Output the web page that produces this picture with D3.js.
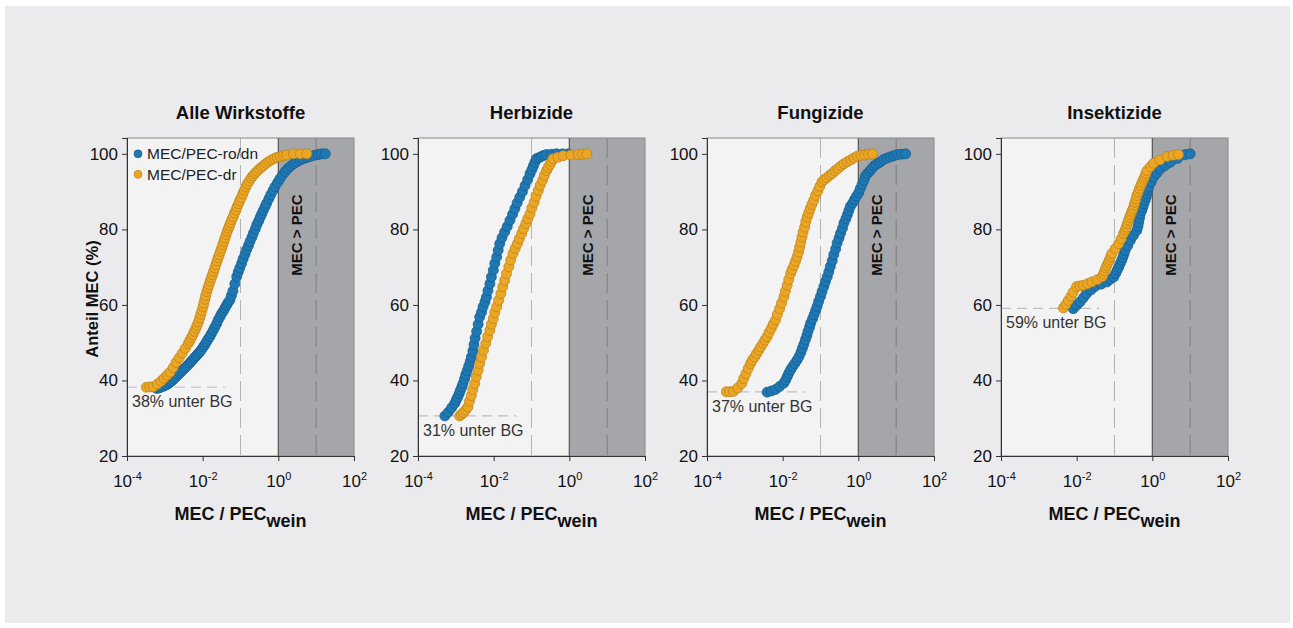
<!DOCTYPE html>
<html>
<head>
<meta charset="utf-8">
<script src="https://cdn.jsdelivr.net/npm/d3@7"></script>
<style>
  body { margin: 0; background: #fff; }
  svg { display: block; font-family: "Liberation Sans", Arial, sans-serif; }
</style>
</head>
<body>
<svg id="chart" width="1293" height="628"></svg>
<script>
// Panel titles and "unter BG" annotations
const panelTitles = ['Alle Wirkstoffe', 'Herbizide', 'Fungizide', 'Insektizide'];
const loqPercent = [38.2, 30.6, 37.0, 59.1];
const loqLabels = ['38% unter BG', '31% unter BG', '37% unter BG', '59% unter BG'];

// Ticks
const xTickExp = [-4, -2, 0, 2];
const yTicks = [20, 40, 60, 80, 100];

// Series: [log10(MEC/PEC), Anteil MEC %]
const allRoDn = [[-3.22,37.9],[-3.16,38.0],[-3.10,38.2],[-3.03,38.5],[-2.96,38.8],[-2.90,39.2],[-2.85,39.6],[-2.80,40.0],[-2.75,40.5],[-2.70,41.0],[-2.65,41.5],[-2.60,42.0],[-2.55,42.5],[-2.50,43.0],[-2.45,43.5],[-2.40,44.0],[-2.34,44.6],[-2.30,45.1],[-2.25,45.6],[-2.21,46.1],[-2.16,46.6],[-2.12,47.1],[-2.07,47.6],[-2.03,48.2],[-1.98,48.9],[-1.94,49.5],[-1.90,50.2],[-1.86,50.9],[-1.81,51.6],[-1.77,52.4],[-1.72,53.3],[-1.68,54.1],[-1.63,55.0],[-1.59,56.0],[-1.54,56.9],[-1.50,57.7],[-1.45,58.4],[-1.41,59.2],[-1.37,59.9],[-1.33,60.6],[-1.28,61.3],[-1.24,62.5],[-1.20,63.7],[-1.15,65.6],[-1.10,67.5],[-1.06,68.7],[-1.02,69.8],[-0.97,71.0],[-0.93,72.2],[-0.88,73.4],[-0.84,74.6],[-0.79,75.7],[-0.75,76.8],[-0.70,77.9],[-0.66,79.0],[-0.61,80.1],[-0.57,81.2],[-0.52,82.2],[-0.48,83.2],[-0.44,84.1],[-0.40,85.0],[-0.35,86.0],[-0.31,86.9],[-0.25,88.1],[-0.20,89.2],[-0.14,90.3],[-0.09,91.3],[-0.02,92.4],[0.04,93.4],[0.11,94.4],[0.18,95.3],[0.25,96.1],[0.33,96.8],[0.41,97.4],[0.49,97.9],[0.57,98.3],[0.66,98.7],[0.75,99.0],[0.84,99.3],[0.95,99.6],[1.05,99.8],[1.14,100],[1.24,100]];
const allDr = [[-3.49,38.2],[-3.40,38.3],[-3.31,38.3],[-3.20,39.0],[-3.10,39.8],[-3.02,40.6],[-2.94,41.4],[-2.86,42.2],[-2.78,43.4],[-2.70,44.8],[-2.62,46.0],[-2.54,47.2],[-2.46,48.5],[-2.38,49.8],[-2.34,50.5],[-2.30,51.3],[-2.26,52.1],[-2.22,53.0],[-2.18,53.8],[-2.15,54.6],[-2.11,55.5],[-2.08,56.5],[-2.05,57.5],[-2.02,58.5],[-1.99,59.5],[-1.97,60.5],[-1.94,61.5],[-1.92,62.5],[-1.89,63.5],[-1.86,64.5],[-1.83,65.4],[-1.80,66.3],[-1.77,67.2],[-1.74,68.0],[-1.71,68.9],[-1.68,69.8],[-1.65,70.7],[-1.62,71.6],[-1.59,72.5],[-1.56,73.3],[-1.53,74.2],[-1.50,75.0],[-1.47,75.9],[-1.44,76.8],[-1.41,77.7],[-1.38,78.6],[-1.35,79.5],[-1.32,80.3],[-1.29,81.0],[-1.26,81.8],[-1.23,82.6],[-1.19,83.4],[-1.16,84.3],[-1.12,85.1],[-1.09,86.0],[-1.05,86.8],[-1.02,87.6],[-0.98,88.4],[-0.94,89.4],[-0.90,90.3],[-0.86,91.2],[-0.82,92.0],[-0.77,92.8],[-0.72,93.6],[-0.67,94.2],[-0.62,94.8],[-0.56,95.4],[-0.50,96.0],[-0.44,96.5],[-0.38,97.0],[-0.32,97.5],[-0.25,98.0],[-0.18,98.4],[-0.10,98.8],[-0.03,99.1],[0.05,99.3],[0.13,99.5],[0.22,99.7],[0.40,100],[0.58,100],[0.75,100]];
const herbRoDn = [[-3.29,30.6],[-3.20,31.6],[-3.11,32.8],[-3.03,33.9],[-2.99,34.8],[-2.95,35.6],[-2.91,36.5],[-2.88,37.4],[-2.84,38.3],[-2.81,39.2],[-2.77,40.4],[-2.74,41.5],[-2.70,42.6],[-2.66,43.8],[-2.62,45.0],[-2.59,46.2],[-2.55,47.8],[-2.52,49.5],[-2.49,51.2],[-2.45,53.0],[-2.41,54.9],[-2.37,56.8],[-2.32,58.1],[-2.28,59.5],[-2.23,60.8],[-2.19,62.1],[-2.15,63.8],[-2.10,65.6],[-2.06,67.4],[-2.01,69.2],[-1.97,71.0],[-1.92,72.7],[-1.88,74.5],[-1.84,76.2],[-1.78,77.8],[-1.71,79.3],[-1.64,80.8],[-1.57,82.4],[-1.50,84.0],[-1.44,85.5],[-1.38,87.0],[-1.31,88.5],[-1.24,90.0],[-1.17,91.6],[-1.10,93.2],[-1.04,94.7],[-0.99,95.8],[-0.95,96.8],[-0.91,97.8],[-0.87,98.7],[-0.80,99.0],[-0.74,99.3],[-0.67,99.6],[-0.60,99.8],[-0.47,99.9],[-0.34,100],[-0.18,100],[-0.03,100]];
const herbDr = [[-2.90,30.6],[-2.85,31.0],[-2.80,31.5],[-2.74,32.2],[-2.68,33.0],[-2.64,34.5],[-2.59,36.0],[-2.55,37.6],[-2.50,39.2],[-2.46,41.0],[-2.41,42.7],[-2.37,44.5],[-2.32,46.2],[-2.27,48.0],[-2.21,49.8],[-2.16,51.6],[-2.10,53.3],[-2.06,54.9],[-2.01,56.4],[-1.97,58.0],[-1.92,59.5],[-1.87,61.2],[-1.81,63.0],[-1.76,64.8],[-1.71,66.5],[-1.66,68.3],[-1.60,70.1],[-1.55,71.9],[-1.49,73.6],[-1.43,75.0],[-1.37,76.3],[-1.32,77.6],[-1.26,78.9],[-1.21,80.2],[-1.15,81.5],[-1.10,82.8],[-1.04,84.1],[-0.99,85.7],[-0.93,87.2],[-0.88,88.8],[-0.82,90.3],[-0.77,91.7],[-0.71,93.0],[-0.66,94.3],[-0.60,95.6],[-0.56,96.4],[-0.51,97.2],[-0.47,98.0],[-0.43,98.7],[-0.30,99.1],[-0.16,99.5],[0.04,99.7],[0.24,99.8],[0.35,99.9],[0.46,100]];
const fungRoDn = [[-2.41,36.9],[-2.30,37.2],[-2.19,37.6],[-2.08,38.4],[-1.97,39.3],[-1.92,40.1],[-1.88,41.0],[-1.84,41.9],[-1.79,42.8],[-1.74,43.6],[-1.68,44.5],[-1.62,45.4],[-1.57,46.3],[-1.52,47.4],[-1.48,48.5],[-1.44,49.6],[-1.40,50.8],[-1.36,51.9],[-1.33,53.0],[-1.29,54.1],[-1.26,55.2],[-1.21,56.3],[-1.17,57.4],[-1.13,58.5],[-1.09,59.6],[-1.05,60.9],[-1.00,62.2],[-0.96,63.5],[-0.91,64.9],[-0.87,66.2],[-0.82,67.5],[-0.78,68.8],[-0.74,70.2],[-0.69,71.7],[-0.65,73.3],[-0.60,74.8],[-0.56,76.4],[-0.51,77.7],[-0.47,79.0],[-0.42,80.3],[-0.38,81.7],[-0.33,82.8],[-0.29,83.9],[-0.25,85.0],[-0.21,86.1],[-0.15,87.0],[-0.10,87.9],[-0.05,88.8],[0.01,89.7],[0.05,90.8],[0.10,91.9],[0.15,93.0],[0.19,94.1],[0.24,94.8],[0.30,95.4],[0.35,96.0],[0.41,96.7],[0.47,97.2],[0.54,97.6],[0.60,98.0],[0.67,98.5],[0.76,98.9],[0.85,99.2],[0.94,99.5],[1.03,99.8],[1.14,99.9],[1.25,100]];
const fungDr = [[-3.49,37.0],[-3.40,37.0],[-3.30,37.1],[-3.19,38.0],[-3.08,39.2],[-3.03,40.5],[-2.97,41.8],[-2.91,43.2],[-2.85,44.5],[-2.80,45.4],[-2.74,46.2],[-2.69,47.1],[-2.63,48.0],[-2.58,48.9],[-2.52,49.8],[-2.47,50.7],[-2.41,51.6],[-2.36,52.7],[-2.30,53.8],[-2.25,54.9],[-2.19,56.0],[-2.14,57.5],[-2.08,59.0],[-2.03,60.5],[-1.97,62.1],[-1.93,63.6],[-1.88,65.2],[-1.84,66.7],[-1.79,68.3],[-1.75,69.4],[-1.70,70.5],[-1.66,71.6],[-1.62,72.7],[-1.58,74.0],[-1.55,75.3],[-1.52,76.6],[-1.49,78.0],[-1.46,79.3],[-1.42,80.6],[-1.39,82.0],[-1.35,83.3],[-1.31,84.4],[-1.27,85.5],[-1.23,86.6],[-1.18,87.7],[-1.13,89.0],[-1.07,90.2],[-1.02,91.4],[-0.96,92.6],[-0.90,93.2],[-0.83,93.7],[-0.76,94.3],[-0.69,94.8],[-0.62,95.5],[-0.54,96.1],[-0.46,96.8],[-0.38,97.4],[-0.29,97.9],[-0.20,98.4],[-0.12,98.9],[-0.03,99.4],[0.07,99.6],[0.17,99.7],[0.27,99.9],[0.37,100]];
const insRoDn = [[-2.09,59.0],[-2.00,59.9],[-1.91,60.8],[-1.82,61.9],[-1.74,63.0],[-1.62,64.0],[-1.51,64.9],[-1.35,65.5],[-1.20,66.1],[-1.11,66.8],[-1.02,67.4],[-0.97,68.3],[-0.93,69.2],[-0.89,70.0],[-0.85,70.9],[-0.81,71.8],[-0.78,72.6],[-0.75,73.5],[-0.72,74.4],[-0.65,75.7],[-0.58,77.1],[-0.50,78.4],[-0.41,79.7],[-0.38,80.8],[-0.36,81.9],[-0.34,83.0],[-0.32,84.1],[-0.28,85.0],[-0.25,85.9],[-0.22,86.8],[-0.19,87.7],[-0.16,88.6],[-0.14,89.5],[-0.12,90.4],[-0.10,91.2],[-0.03,92.5],[0.03,93.8],[0.12,94.9],[0.21,96.0],[0.34,96.9],[0.48,97.8],[0.67,98.8],[0.87,99.8],[1.00,100]];
const insDr = [[-2.35,59.2],[-2.28,60.2],[-2.22,61.2],[-2.15,62.3],[-2.09,63.4],[-2.00,64.9],[-1.91,65.0],[-1.82,65.2],[-1.71,65.6],[-1.60,66.1],[-1.46,66.7],[-1.33,67.4],[-1.29,68.2],[-1.26,69.0],[-1.23,69.8],[-1.20,70.5],[-1.16,71.3],[-1.13,72.0],[-1.10,72.8],[-1.07,73.6],[-0.98,74.9],[-0.89,76.2],[-0.82,77.5],[-0.76,78.9],[-0.72,79.8],[-0.69,80.6],[-0.66,81.5],[-0.63,82.4],[-0.60,83.2],[-0.57,84.0],[-0.54,84.8],[-0.51,85.5],[-0.48,86.4],[-0.46,87.2],[-0.43,88.1],[-0.41,89.0],[-0.37,89.9],[-0.34,90.8],[-0.30,91.7],[-0.27,92.5],[-0.23,93.3],[-0.20,94.0],[-0.17,94.8],[-0.14,95.6],[-0.05,96.6],[0.03,97.5],[0.20,98.4],[0.39,99.3],[0.55,99.6],[0.69,99.8]];

const roDnSeries = [allRoDn, herbRoDn, fungRoDn, insRoDn];
const drSeries = [allDr, herbDr, fungDr, insDr];

const blue = '#1f78b4', blueEdge = '#135a8a';
const orange = '#eca625', orangeEdge = '#b67f15';

// layout
const panelLeft = [127, 418, 707, 1001];
const plotW = 227, plotTop = 138, plotBottom = 456;

const svg = d3.select('#chart');

svg.append('rect')
  .attr('x', 5).attr('y', 6).attr('width', 1285).attr('height', 617)
  .attr('fill', '#ebebed');

const y = d3.scaleLinear().domain([20, 104.2]).range([plotBottom, plotTop]);

panelTitles.forEach((title, i) => {
  const left = panelLeft[i];
  const x = d3.scaleLog().domain([1e-4, 1e2]).range([left, left + plotW]);
  const g = svg.append('g');

  // plot background
  g.append('rect')
    .attr('x', left).attr('y', plotTop).attr('width', plotW).attr('height', plotBottom - plotTop)
    .attr('fill', '#f3f3f4');

  // MEC > PEC region
  g.append('rect')
    .attr('x', x(1)).attr('y', plotTop).attr('width', x(1e2) - x(1)).attr('height', plotBottom - plotTop)
    .attr('fill', '#a4a6a9');

  // dashed reference lines at 0.1 and 10
  g.append('line')
    .attr('x1', x(0.1)).attr('x2', x(0.1)).attr('y1', plotTop).attr('y2', plotBottom)
    .attr('stroke', '#b4b4b6').attr('stroke-width', 1).attr('stroke-dasharray', '20,7');
  g.append('line')
    .attr('x1', x(10)).attr('x2', x(10)).attr('y1', plotTop).attr('y2', plotBottom)
    .attr('stroke', '#7c7e81').attr('stroke-width', 1).attr('stroke-dasharray', '20,7');

  // LOQ line + label
  g.append('line')
    .attr('x1', left).attr('x2', x(Math.pow(10, -1.4)))
    .attr('y1', y(loqPercent[i])).attr('y2', y(loqPercent[i]))
    .attr('stroke', '#bdbdbf').attr('stroke-width', 1.2).attr('stroke-dasharray', '10,6');
  g.append('text')
    .attr('x', left + 5).attr('y', y(loqPercent[i]) + 20)
    .attr('font-size', 16).attr('fill', '#333')
    .text(loqLabels[i]);

  // frame
  g.append('rect')
    .attr('x', left).attr('y', plotTop).attr('width', plotW).attr('height', plotBottom - plotTop)
    .attr('fill', 'none').attr('stroke', '#8a8a8c').attr('stroke-width', 1);
  g.append('line')
    .attr('x1', x(1)).attr('x2', x(1)).attr('y1', plotTop).attr('y2', plotBottom)
    .attr('stroke', '#555').attr('stroke-width', 1.2);

  // MEC > PEC label
  const mx = x(Math.pow(10, 0.48)), my = y(78.5);
  g.append('text')
    .attr('transform', `translate(${mx},${my}) rotate(-90)`)
    .attr('text-anchor', 'middle').attr('dy', '0.35em')
    .attr('font-size', 15).attr('font-weight', 'bold').attr('fill', '#111')
    .text('MEC > PEC');

  // axes
  const yAxis = g.append('g')
    .attr('transform', `translate(${left},0)`)
    .call(d3.axisLeft(y).tickValues(yTicks).tickSize(5).tickPadding(4));
  yAxis.select('.domain').attr('stroke', '#333');
  yAxis.selectAll('.tick line').attr('stroke', '#333');
  yAxis.selectAll('.tick text').attr('font-size', 17).attr('fill', '#111')
    .attr('font-family', '"Liberation Sans", Arial, sans-serif');

  const xAxis = g.append('g')
    .attr('transform', `translate(0,${plotBottom})`)
    .call(d3.axisBottom(x).tickValues(xTickExp.map(e => Math.pow(10, e))).tickSize(5).tickFormat(''));
  xAxis.select('.domain').attr('stroke', '#333');
  xAxis.selectAll('.tick line').attr('stroke', '#333');
  xAxis.selectAll('.tick').each(function (d, k) {
    const t = d3.select(this).append('text')
      .attr('y', 31).attr('text-anchor', 'middle')
      .attr('font-size', 17).attr('fill', '#111')
      .attr('font-family', '"Liberation Sans", Arial, sans-serif');
    t.append('tspan').text('10');
    t.append('tspan').attr('dy', -7).attr('font-size', 11).text(String(xTickExp[k]));
  });

  // axis title
  const xt = g.append('text')
    .attr('x', left + plotW / 2).attr('y', 520)
    .attr('text-anchor', 'middle').attr('font-size', 18).attr('font-weight', 'bold').attr('fill', '#111');
  xt.append('tspan').text('MEC / PEC');
  xt.append('tspan').attr('dy', 7).text('wein');

  // panel title
  g.append('text')
    .attr('x', left + plotW / 2).attr('y', 119)
    .attr('text-anchor', 'middle').attr('font-size', 18.5).attr('font-weight', 'bold').attr('fill', '#111')
    .text(title);

  // points
  const drawSeries = (data, fill, edge) => {
    g.append('g').selectAll('circle')
      .data(data).enter().append('circle')
      .attr('cx', d => x(Math.pow(10, d[0])))
      .attr('cy', d => y(d[1]))
      .attr('r', 5)
      .attr('fill', fill).attr('stroke', edge).attr('stroke-width', 0.7);
  };
  drawSeries(roDnSeries[i], blue, blueEdge);
  drawSeries(drSeries[i], orange, orangeEdge);

  if (i === 0) {
    const legend = [['MEC/PEC-ro/dn', blue, blueEdge], ['MEC/PEC-dr', orange, orangeEdge]];
    legend.forEach((l, k) => {
      const ly = y(100) + k * 20.5;
      g.append('circle').attr('cx', left + 11).attr('cy', ly).attr('r', 4)
        .attr('fill', l[1]).attr('stroke', l[2]).attr('stroke-width', 0.6);
      g.append('text').attr('x', left + 20).attr('y', ly).attr('dy', '0.36em')
        .attr('font-size', 15.5).attr('fill', '#222').text(l[0]);
    });
  }
});

// y axis label
svg.append('text')
  .attr('transform', `translate(98,${(plotTop + plotBottom) / 2 + 2}) rotate(-90)`)
  .attr('text-anchor', 'middle').attr('font-size', 16.5).attr('font-weight', 'bold').attr('fill', '#111')
  .text('Anteil MEC (%)');
</script>
</body>
</html>
